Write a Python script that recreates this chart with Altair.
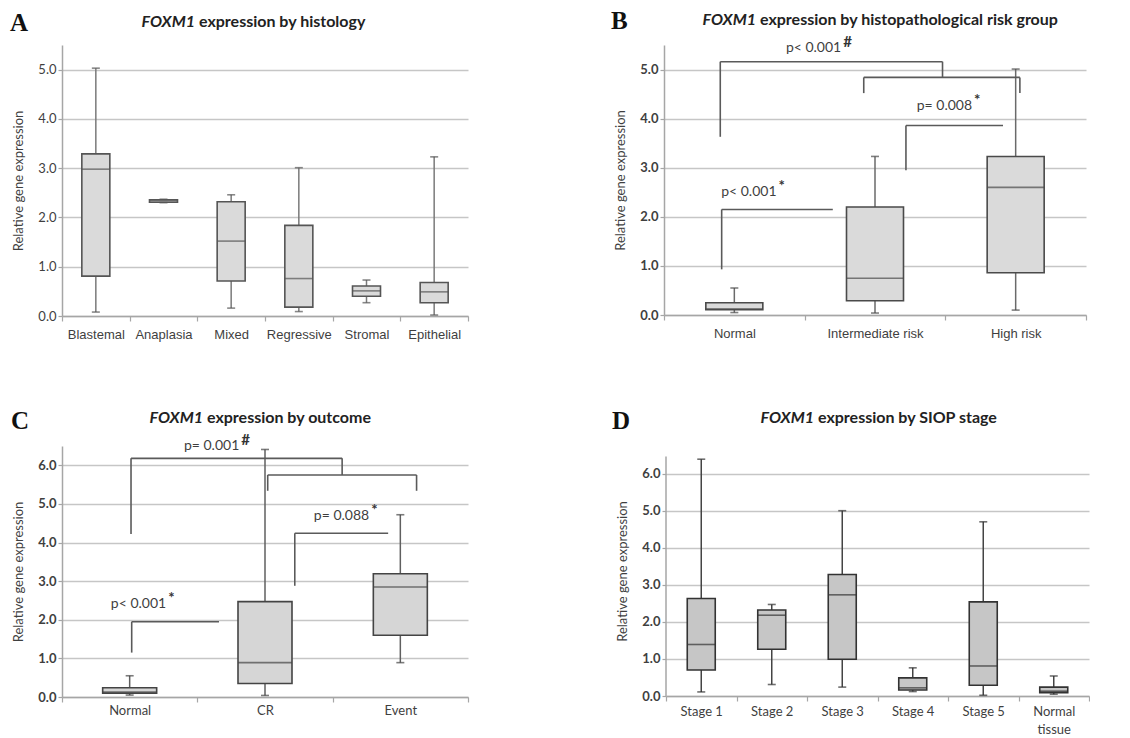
import altair as alt
import pandas as pd

# ---------------- Panel A: histology ----------------
a_cats = ["Blastemal", "Anaplasia", "Mixed", "Regressive", "Stromal", "Epithelial"]
a_low = [0.08, 2.30, 0.16, 0.09, 0.27, 0.02]
a_q1 = [0.81, 2.31, 0.71, 0.18, 0.40, 0.27]
a_med = [2.98, 2.34, 1.52, 0.76, 0.51, 0.49]
a_q3 = [3.29, 2.36, 2.32, 1.84, 0.61, 0.68]
a_high = [5.03, 2.37, 2.46, 3.01, 0.73, 3.23]

# ---------------- Panel B: risk group ----------------
b_cats = ["Normal", "Intermediate risk", "High risk"]
b_low = [0.05, 0.04, 0.10]
b_q1 = [0.11, 0.29, 0.86]
b_med = [0.12, 0.75, 2.60]
b_q3 = [0.25, 2.20, 3.23]
b_high = [0.55, 3.23, 5.01]

# ---------------- Panel C: outcome ----------------
c_cats = ["Normal", "CR", "Event"]
c_low = [0.05, 0.04, 0.89]
c_q1 = [0.10, 0.35, 1.60]
c_med = [0.13, 0.89, 2.85]
c_q3 = [0.24, 2.47, 3.19]
c_high = [0.55, 6.41, 4.72]

# ---------------- Panel D: SIOP stage ----------------
d_cats = ["Stage 1", "Stage 2", "Stage 3", "Stage 4", "Stage 5", "Normal tissue"]
d_low = [0.11, 0.31, 0.24, 0.12, 0.02, 0.05]
d_q1 = [0.70, 1.26, 0.99, 0.16, 0.29, 0.09]
d_med = [1.39, 2.18, 2.73, 0.22, 0.81, 0.13]
d_q3 = [2.63, 2.32, 3.28, 0.49, 2.54, 0.24]
d_high = [6.39, 2.47, 5.00, 0.76, 4.70, 0.54]

y_ticks_5 = [0, 1, 2, 3, 4, 5]
y_ticks_6 = [0, 1, 2, 3, 4, 5, 6]

# significance brackets (x in category units, y in expression units)
b_seg_x = [0.40, 0.40, 1.98, 1.42, 1.42, 2.53, 1.72, 1.72, 0.41, 0.41]
b_seg_x2 = [0.40, 1.98, 1.98, 2.53, 1.42, 2.53, 1.72, 2.41, 0.41, 1.20]
b_seg_y = [3.63, 5.16, 5.16, 4.84, 4.84, 4.84, 2.95, 3.86, 0.93, 2.15]
b_seg_y2 = [5.16, 5.16, 4.84, 4.84, 4.52, 4.52, 3.86, 3.86, 2.15, 2.15]
b_note_x = [1.26, 2.19, 0.80]
b_note_y = [5.44, 4.26, 2.51]
b_note_txt = ["p< 0.001", "p= 0.008", "p< 0.001"]
b_note_sup = ["#", "*", "*"]

c_seg_x = [0.51, 0.51, 2.07, 1.52, 1.52, 2.62, 1.72, 1.72, 0.515, 0.515]
c_seg_x2 = [0.51, 2.07, 2.07, 2.62, 1.52, 2.62, 1.72, 2.41, 0.515, 1.16]
c_seg_y = [4.22, 6.18, 6.18, 5.75, 5.75, 5.75, 2.88, 4.24, 1.15, 1.95]
c_seg_y2 = [6.18, 6.18, 5.75, 5.75, 5.34, 5.34, 4.24, 4.24, 1.95, 1.95]
c_note_x = [1.31, 2.27, 0.77]
c_note_y = [6.51, 4.69, 2.42]
c_note_txt = ["p= 0.001", "p= 0.088", "p< 0.001"]
c_note_sup = ["#", "*", "*"]

GRID = "#c6c6c6"
AXIS = "#a6a6a6"
TXT = "#3f3f3f"
SANS = "Lato"


def panel(cats, low, q1, med, q3, high, ymax, yticks, width, height, box_px,
          fill, stroke, whisk, xfont, yfont_weight, title_rest, split_x, title_y,
          letter, letter_x, letter_y, segs=None, notes=None, label_expr=None,
          ytitle_pad=12, xlab_pad=7, axis_top=None):
    df = pd.DataFrame({"cat": cats, "low": low, "q1": q1, "med": med,
                       "q3": q3, "high": high})
    yscale = alt.Scale(domain=[0, ymax], nice=False, zero=True)
    yaxis = alt.Axis(values=yticks, format=".1f", title="Relative gene expression",
                     grid=True, gridColor=GRID, gridWidth=1.4, orient="left",
                     domain=axis_top is None,
                     domainColor=AXIS, domainWidth=1.5, tickColor=AXIS,
                     tickSize=4, tickWidth=1.2, labelFont=SANS, labelFontSize=13,
                     labelFontWeight=yfont_weight, labelColor=TXT, labelPadding=2,
                     titleFont=SANS, titleFontSize=13, titleFontWeight="normal",
                     titleColor=TXT, titlePadding=ytitle_pad)
    xaxis_kw = dict(title=None, labelAngle=0, tickBand="extent", ticks=True,
                    orient="bottom",
                    tickSize=5, tickColor=AXIS, tickWidth=1.2, domainColor=AXIS,
                    domainWidth=1.5, labelFont=xfont, labelFontSize=13,
                    labelColor=TXT, labelPadding=xlab_pad, grid=False,
                    labelLineHeight=18)
    if label_expr:
        xaxis_kw["labelExpr"] = label_expr
    x = alt.X("cat:N", sort=cats, scale=alt.Scale(paddingInner=0, paddingOuter=0),
              axis=alt.Axis(**xaxis_kw))
    base = alt.Chart(df).encode(x=x)
    wh = base.mark_rule(color=whisk, strokeWidth=1.5).encode(
        y=alt.Y("low:Q", scale=yscale, axis=yaxis), y2="high:Q")
    box = base.mark_bar(size=box_px, fill=fill, stroke=stroke, strokeWidth=1.6).encode(
        y=alt.Y("q1:Q", scale=yscale, axis=yaxis), y2="q3:Q")
    md = base.mark_tick(size=box_px, thickness=1.6, color=stroke).encode(
        y=alt.Y("med:Q", scale=yscale, axis=yaxis))
    cap_hi = base.mark_tick(size=8, thickness=1.6, color=stroke).encode(
        y=alt.Y("high:Q", scale=yscale, axis=yaxis))
    cap_lo = base.mark_tick(size=8, thickness=1.6, color=stroke).encode(
        y=alt.Y("low:Q", scale=yscale, axis=yaxis))

    one = pd.DataFrame({"a": ["FOXM1"], "b": [title_rest], "l": [letter],
                        "y0": [0.0], "y1": [axis_top if axis_top else ymax]})
    t1 = alt.Chart(one).mark_text(font=SANS, fontSize=16, fontWeight="bold",
                                  fontStyle="italic", align="right",
                                  baseline="middle", color="#222").encode(
        text="a:N", x=alt.value(split_x), y=alt.value(title_y))
    t2 = alt.Chart(one).mark_text(font=SANS, fontSize=16, fontWeight="bold",
                                  align="left", baseline="middle", dx=4,
                                  color="#222").encode(
        text="b:N", x=alt.value(split_x), y=alt.value(title_y))
    lt = alt.Chart(one).mark_text(font="Liberation Serif", fontSize=25,
                                  fontWeight="bold", align="left",
                                  baseline="middle", color="#111").encode(
        text="l:N", x=alt.value(letter_x), y=alt.value(letter_y))

    layers = [wh, box, md, cap_hi, cap_lo, t1, t2, lt]
    if axis_top is not None:
        # y axis line that stops below the top of the plot area
        dom = alt.Chart(one).mark_rule(color=AXIS, strokeWidth=1.5).encode(
            x=alt.value(0), y=alt.Y("y0:Q", scale=yscale, axis=yaxis), y2="y1:Q")
        layers.insert(0, dom)
    boxes = alt.layer(*layers)
    if segs is None:
        return boxes.properties(width=width, height=height)
    n = len(cats)
    xs = alt.Scale(domain=[0, n], nice=False, zero=False)
    sdf = pd.DataFrame({"x": segs[0], "x2": segs[1], "y": segs[2], "y2": segs[3]})
    rules = alt.Chart(sdf).mark_rule(color="#5a5a5a", strokeWidth=1.6).encode(
        x=alt.X("x:Q", scale=xs, axis=None), x2="x2:Q",
        y=alt.Y("y:Q", scale=yscale, axis=yaxis), y2="y2:Q")
    ndf = pd.DataFrame({"x": notes[0], "y": notes[1], "t": notes[2], "s": notes[3]})
    nt = alt.Chart(ndf).mark_text(font=SANS, fontSize=14, align="right",
                                  baseline="middle", color=TXT).encode(
        x=alt.X("x:Q", scale=xs, axis=None),
        y=alt.Y("y:Q", scale=yscale, axis=yaxis), text="t:N")
    ns = alt.Chart(ndf).mark_text(font=SANS, fontSize=15, fontWeight="bold",
                                  align="left", baseline="middle", dx=2, dy=-6,
                                  color="#333").encode(
        x=alt.X("x:Q", scale=xs, axis=None),
        y=alt.Y("y:Q", scale=yscale, axis=yaxis), text="s:N")
    ann = alt.layer(rules, nt, ns)
    return alt.layer(boxes, ann).resolve_scale(x="independent").properties(
        width=width, height=height)


pA = panel(a_cats, a_low, a_q1, a_med, a_q3, a_high, 5.5, y_ticks_5, 406, 271, 28,
           "#dadada", "#555555", "#7a7a7a", "Liberation Sans", "normal",
           "expression by histology", 133, -23.5, "A", -52, -22)
pB = panel(b_cats, b_low, b_q1, b_med, b_q3, b_high, 5.5, y_ticks_5, 422, 270, 57,
           "#dadada", "#4a4a4a", "#6a6a6a", "Liberation Sans", "bold",
           "expression by histopathological risk group", 92, -25.5, "B", -53, -24.5,
           segs=(b_seg_x, b_seg_x2, b_seg_y, b_seg_y2),
           notes=(b_note_x, b_note_y, b_note_txt, b_note_sup))
pC = panel(c_cats, c_low, c_q1, c_med, c_q3, c_high, 6.5, y_ticks_6, 406, 251, 54,
           "#d6d6d6", "#444444", "#5f5f5f", SANS, "bold",
           "expression by outcome", 141, -28, "C", -51, -25.5,
           segs=(c_seg_x, c_seg_x2, c_seg_y, c_seg_y2),
           notes=(c_note_x, c_note_y, c_note_txt, c_note_sup), xlab_pad=2)
pD = panel(d_cats, d_low, d_q1, d_med, d_q3, d_high, 6.746, y_ticks_6, 423, 250, 28,
           "#c6c6c6", "#333333", "#444444", SANS, "bold",
           "expression by SIOP stage", 148, -28, "D", -54, -25,
           label_expr="datum.label == 'Normal tissue' ? ['Normal', 'tissue'] : datum.label",
           xlab_pad=4, axis_top=6.46)

row1 = alt.hconcat(pA, pB, spacing=142)
row2 = alt.hconcat(pC, pD, spacing=143)
chart = alt.vconcat(row1, row2, spacing=67).properties(
    padding={"left": 2, "top": 0, "right": 0, "bottom": 0},
    background="white",
).configure_view(stroke=None)

chart.save("out.html", embed_options={"renderer": "svg", "actions": False})
